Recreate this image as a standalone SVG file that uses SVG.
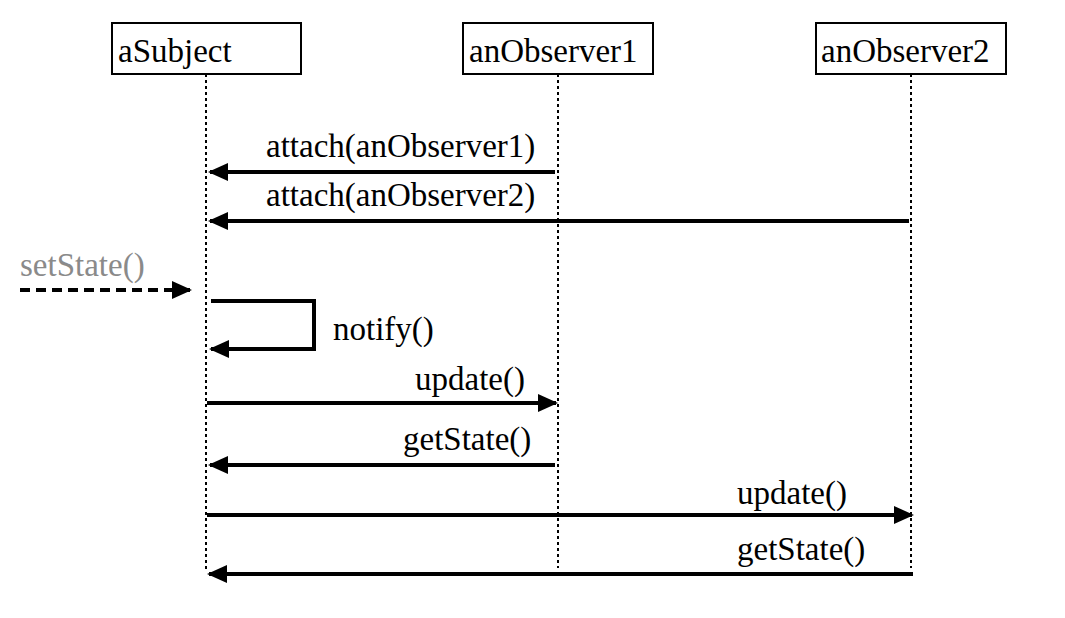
<svg xmlns="http://www.w3.org/2000/svg" width="1065" height="618" viewBox="0 0 1065 618">
<style>
text{font-family:"Liberation Serif","DejaVu Serif",serif;font-size:33px;fill:#000}
.box{fill:#fff;stroke:#000;stroke-width:2}
.life{stroke:#000;stroke-width:2;stroke-dasharray:3 3;fill:none}
.msg{stroke:#000;stroke-width:4;fill:none;marker-end:url(#ah)}
.dash{stroke:#000;stroke-width:4;fill:none;stroke-dasharray:10 6;marker-end:url(#ah)}
.gray{fill:#8a8a8a}
</style>
<defs>
<marker id="ah" markerUnits="userSpaceOnUse" markerWidth="20" markerHeight="18" refX="18" refY="9" orient="auto">
<path d="M0,0 L20,9 L0,18 z" fill="#000"/>
</marker>
</defs>
<rect width="1065" height="618" fill="#fff"/>
<g id="aSubject">
<line class="life" x1="206" y1="74" x2="206" y2="570"/>
<rect class="box" x="112" y="23" width="189" height="51"/>
<text x="118" y="62">aSubject</text>
</g>
<g id="anObserver1">
<line class="life" x1="558" y1="74" x2="558" y2="568"/>
<rect class="box" x="463" y="23" width="190" height="51"/>
<text x="469" y="62">anObserver1</text>
</g>
<g id="anObserver2">
<line class="life" x1="911" y1="74" x2="911" y2="568"/>
<rect class="box" x="816" y="23" width="190" height="51"/>
<text x="821" y="62">anObserver2</text>
</g>
<g id="connectors">
<line class="msg" x1="555" y1="172" x2="210" y2="172"/>
<text x="266" y="157">attach(anObserver1)</text>
<line class="msg" x1="909" y1="221" x2="210" y2="221"/>
<text x="266" y="206">attach(anObserver2)</text>
<line class="dash" x1="20" y1="290" x2="190" y2="290"/>
<text class="gray" x="20" y="276">setState()</text>
<polyline class="msg" points="211,301 314,301 314,349 211,349"/>
<text x="333" y="340">notify()</text>
<line class="msg" x1="207" y1="403" x2="556" y2="403"/>
<text x="415" y="390">update()</text>
<line class="msg" x1="555" y1="465" x2="210" y2="465"/>
<text x="403" y="450">getState()</text>
<line class="msg" x1="207" y1="515" x2="912" y2="515"/>
<text x="737" y="504">update()</text>
<line class="msg" x1="913" y1="574" x2="209" y2="574"/>
<text x="737" y="560">getState()</text>
</g>
</svg>
